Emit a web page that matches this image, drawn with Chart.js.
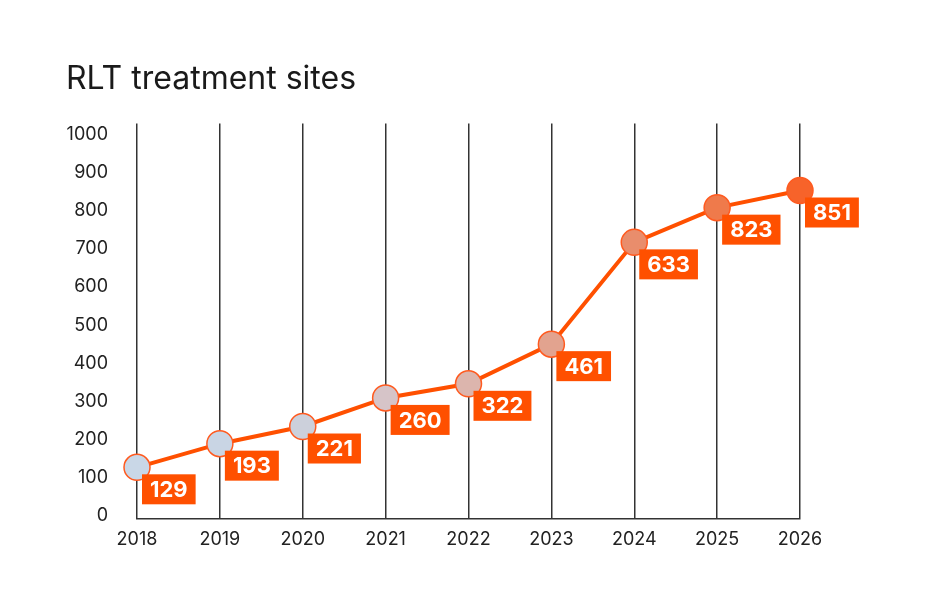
<!DOCTYPE html>
<html>
<head>
<meta charset="utf-8">
<script src="https://cdn.jsdelivr.net/npm/chart.js@4"></script>
<style>
html,body{margin:0;padding:0;background:#fff;}
#wrap{width:927px;height:609px;}
</style>
</head>
<body>
<div id="wrap"><canvas id="c" width="927" height="609"></canvas></div>
<script>
const years = ['2018','2019','2020','2021','2022','2023','2024','2025','2026'];
const plotted = [127, 189, 234, 309, 346, 450, 717, 808, 853];
const labelTexts = ['129','193','221','260','322','461','633','823','851'];
const pointColors = ['#c9d7e7','#c9d5e4','#ccd0db','#d6c4c8','#dcb5ad','#e2a38f','#e98d6c','#ef7a4b','#f7632a'];
const yTicks = [0,100,200,300,400,500,600,700,800,900,1000];

const labelPlugin = {
  id: 'boxLabels',
  afterDatasetsDraw(chart) {
    const ctx = chart.ctx;
    const meta = chart.getDatasetMeta(0);
    ctx.save();
    ctx.font = 'bold 22px Inter, "Liberation Sans", sans-serif';
    ctx.textBaseline = 'middle';
    meta.data.forEach((pt, i) => {
      const t = labelTexts[i];
      const w = ctx.measureText(t).width + 16;
      const h = 30;
      const x = pt.x + 5, y = pt.y + 7;
      ctx.fillStyle = '#ff5000';
      ctx.fillRect(x, y, w, h);
      ctx.fillStyle = '#ffffff';
      ctx.textAlign = 'center';
      ctx.fillText(t, x + w / 2, y + h / 2 + 1);
    });
    ctx.restore();
  }
};

new Chart(document.getElementById('c'), {
  type: 'line',
  data: {
    labels: years,
    datasets: [{
      data: plotted,
      borderColor: '#ff5000',
      borderWidth: 4,
      pointRadius: 13,
      pointHoverRadius: 13,
      pointBackgroundColor: pointColors,
      pointBorderColor: '#ff5a1f',
      pointBorderWidth: 1.5,
      tension: 0,
      clip: false
    }]
  },
  options: {
    responsive: false,
    animation: false,
    events: [],
    layout: { padding: { left: 66, right: 127, top: 0, bottom: 49 } },
    plugins: {
      legend: { display: false },
      tooltip: { enabled: false },
      title: {
        display: true,
        text: 'RLT treatment sites',
        align: 'start',
        color: '#1a1a1a',
        font: { family: 'Inter, "Liberation Sans", sans-serif', size: 32, weight: 'normal' },
        padding: { top: 60, bottom: 25 }
      }
    },
    scales: {
      x: {
        offset: false,
        grid: { display: true, color: '#333333', lineWidth: 1.5, drawTicks: false },
        border: { display: true, color: '#333333', width: 1.5 },
        ticks: { color: '#222', font: { family: 'Inter, "Liberation Sans", sans-serif', size: 18 }, padding: 10, maxRotation: 0 }
      },
      y: {
        min: -7,
        max: 1029,
        afterBuildTicks(scale) { scale.ticks = yTicks.map(v => ({ value: v })); },
        afterFit(scale) { scale.width = 71; },
        grid: { display: false, drawTicks: false },
        border: { display: false },
        ticks: { color: '#222', font: { family: 'Inter, "Liberation Sans", sans-serif', size: 18 }, padding: 29, callback: v => String(v) }
      }
    }
  },
  plugins: [labelPlugin]
});
</script>
</body>
</html>
